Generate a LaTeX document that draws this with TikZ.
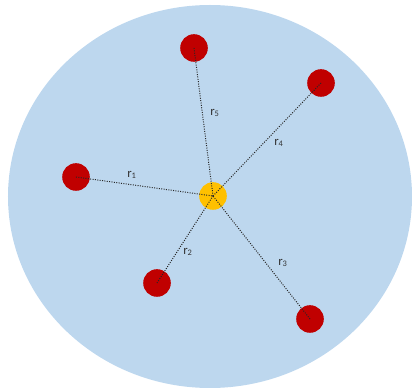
\documentclass[tikz,border=0pt]{standalone}
\usepackage{fontspec}
\setmainfont{Carlito}
\usetikzlibrary{positioning}
\definecolor{skyfill}{HTML}{BDD7EE}
\definecolor{dotred}{HTML}{C00000}
\definecolor{dotgold}{HTML}{FFC000}
\tikzset{
    vertex/.style={circle,inner sep=0pt,minimum size=0.69cm},
    edge/.style={densely dotted,line width=0.7pt,black!85},
    rlabel/.style={font=\fontsize{9}{10}\selectfont,text=black!80,inner sep=1pt}
}

\begin{document}
\begin{tikzpicture}
\useasboundingbox (0,0) rectangle (10.3,9.725);
\fill[skyfill] (5.25,4.8125) ellipse [x radius=5.05, y radius=4.7875];

\node[vertex,fill=dotgold] (c) at (5.325,4.825) {};
\node[vertex,fill=dotred] (p1) at (1.9,5.3) {};
\node[vertex,fill=dotred] (p2) at (3.925,2.65) {};
\node[vertex,fill=dotred] (p3) at (7.75,1.75) {};
\node[vertex,fill=dotred] (p4) at (8.025,7.65) {};
\node[vertex,fill=dotred] (p5) at (4.85,8.525) {};

\draw[edge] (p1.center) -- (c.center);
\draw[edge] (p2.center) -- (c.center);
\draw[edge] (p3.center) -- (c.center);
\draw[edge] (p4.center) -- (c.center);
\draw[edge] (p5.center) -- (c.center);

\node[rlabel] (l1) at (3.3,5.35) {r\textsubscript{1}};
\node[rlabel] (l2) at (4.7,3.425) {r\textsubscript{2}};
\node[rlabel] (l3) at (7.075,3.15) {r\textsubscript{3}};
\node[rlabel] (l4) at (6.975,6.15) {r\textsubscript{4}};
\node[rlabel] (l5) at (5.375,6.9) {r\textsubscript{5}};
\end{tikzpicture}
\end{document}
